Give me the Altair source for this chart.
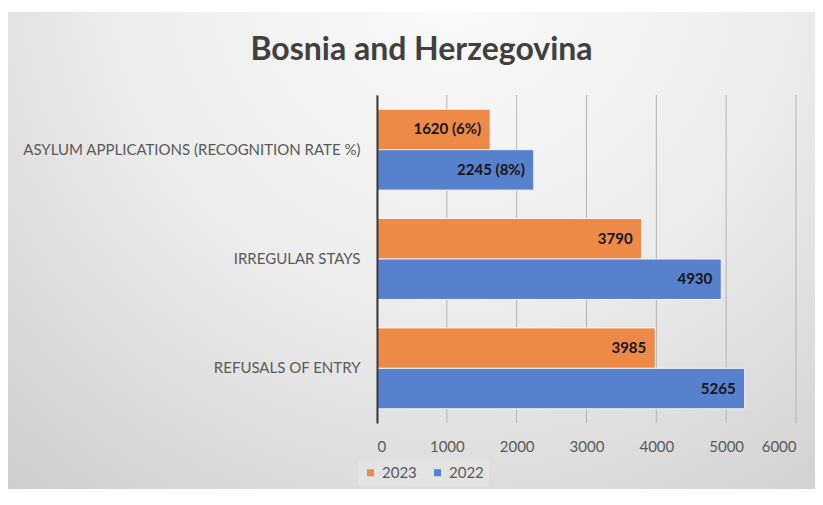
import altair as alt
import pandas as pd

# ---- data ----
categories = ["ASYLUM APPLICATIONS (RECOGNITION RATE %)", "IRREGULAR STAYS", "REFUSALS OF ENTRY"]
years = ["2023", "2022"]
values_2023 = [1620, 3790, 3985]
values_2022 = [2245, 4930, 5265]
labels_2023 = ["1620 (6%)", "3790", "3985"]
labels_2022 = ["2245 (8%)", "4930", "5265"]
x_ticks = [0, 1000, 2000, 3000, 4000, 5000, 6000]
bar_colors = ["#EE8A48", "#5781CD"]

rows = []
for c, v, l in zip(categories, values_2023, labels_2023):
    rows.append({"category": c, "year": "2023", "value": v, "label": l})
for c, v, l in zip(categories, values_2022, labels_2022):
    rows.append({"category": c, "year": "2022", "value": v, "label": l})
df = pd.DataFrame(rows)
grid_df = pd.DataFrame({"tick": x_ticks})
bg_df = pd.DataFrame({"bg": [0]})

FONT = "Lato"
W, H = 419, 328
PAD_L, PAD_T, PAD_R, PAD_B = 369, 87, 19, 66

gradient = {
    "gradient": "radial",
    "x1": 0.55, "y1": 0.15, "r1": 0.0,
    "x2": 0.55, "y2": 0.15, "r2": 0.95,
    "stops": [
        {"offset": 0.0, "color": "#fbfbfb"},
        {"offset": 0.45, "color": "#ececec"},
        {"offset": 1.0, "color": "#c6c6c6"},
    ],
}

background = alt.Chart(bg_df).mark_rect(color=gradient).encode(
    x=alt.value(-PAD_L),
    x2=alt.value(W + PAD_R),
    y=alt.value(-83),
    y2=alt.value(H + PAD_B),
)

x_scale = alt.Scale(domain=[0, 6000], nice=False)

grid = alt.Chart(grid_df).mark_rule(color="#b3b3b3", strokeWidth=1).encode(
    x=alt.X("tick:Q", scale=x_scale,
            axis=alt.Axis(values=x_ticks, grid=False, ticks=False, domain=False,
                          labelFontSize=15, labelColor="#595959", labelFont=FONT,
                          labelPadding=16, title=None, zindex=1, format="d")),
)

y_enc = alt.Y("category:N", sort=categories,
              scale=alt.Scale(paddingInner=0.26, paddingOuter=0.13),
              axis=alt.Axis(title=None, ticks=False, domain=True, domainColor="#3a3a3a",
                            domainWidth=2, labelFontSize=15, labelColor="#595959",
                            labelFont=FONT, labelPadding=17, labelLimit=0, zindex=1))
yoff_enc = alt.YOffset("year:N", sort=years)

bars = alt.Chart(df).mark_bar(stroke="#f4f4f4", strokeWidth=1).encode(
    x=alt.X("value:Q", scale=x_scale),
    y=y_enc,
    yOffset=yoff_enc,
    color=alt.Color("year:N",
                    scale=alt.Scale(domain=years, range=bar_colors),
                    legend=alt.Legend(title=None, orient="none", direction="horizontal",
                                      legendX=-19, legendY=365,
                                      symbolType="square", symbolSize=49,
                                      symbolStrokeWidth=0,
                                      labelFontSize=15, labelColor="#595959",
                                      labelFont=FONT, labelOffset=4,
                                      columnPadding=13, padding=5,
                                      fillColor="#e3e3e3", zindex=1)),
)

texts = alt.Chart(df).mark_text(align="right", baseline="middle", dx=-9,
                                fontSize=15, fontWeight="bold", font=FONT,
                                color="#141414").encode(
    x=alt.X("value:Q", scale=x_scale),
    y=alt.Y("category:N", sort=categories),
    yOffset=yoff_enc,
    text="label:N",
)

chart = alt.layer(background, grid, bars, texts).properties(
    width=W,
    height=H,
    title=alt.TitleParams("Bosnia and Herzegovina", font=FONT, fontSize=32,
                          fontWeight="bold", color="#404040", anchor="middle",
                          frame="group", dx=-165, offset=-80, baseline="alphabetic"),
    autosize=alt.AutoSizeParams(type="none"),
    padding={"left": PAD_L, "top": PAD_T, "right": PAD_R, "bottom": PAD_B},
    background="white",
).configure_view(stroke=None)

chart.save("out.html", embed_options={"renderer": "svg", "actions": False})
